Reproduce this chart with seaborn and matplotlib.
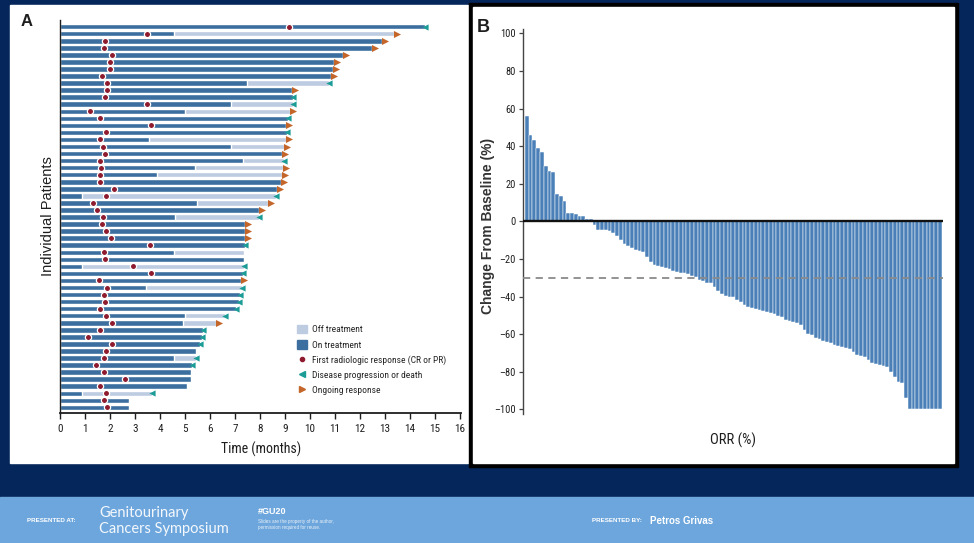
import numpy as np
import pandas as pd
import matplotlib
matplotlib.use('Agg')
import matplotlib.pyplot as plt
from matplotlib.patches import Rectangle
from matplotlib.lines import Line2D
import seaborn as sns

# ---- panel A: swimmer plot, time in months (top row first) ----
on_end = [14.6, 4.56, 12.9, 12.5, 11.32, 10.95, 10.92, 10.85, 7.47, 9.27,
          9.32, 6.85, 5.02, 9.14, 9.06, 9.09, 3.58, 6.85, 8.9, 7.32,
          5.41, 3.88, 8.85, 8.67, 0.9, 5.49, 7.95, 4.59, 7.41, 7.41,
          7.41, 7.42, 4.58, 7.38, 0.9, 7.34, 7.25, 3.46, 7.21, 7.16,
          7.05, 5.01, 4.92, 5.72, 5.68, 5.61, 5.45, 4.56, 5.29, 5.25,
          5.25, 5.08, 0.9, 2.76, 2.76]
# end of follow-up (equals on_end when there is no off-treatment period)
off_end = [14.6, 13.37, 12.9, 12.5, 11.32, 10.95, 10.92, 10.85, 10.77, 9.27,
           9.32, 9.32, 9.22, 9.14, 9.06, 9.09, 9.05, 8.95, 8.9, 8.95,
           8.91, 8.89, 8.85, 8.67, 8.65, 8.31, 7.95, 7.98, 7.41, 7.41,
           7.41, 7.42, 7.38, 7.38, 7.36, 7.34, 7.25, 7.29, 7.21, 7.16,
           7.05, 6.6, 6.25, 5.72, 5.68, 5.61, 5.45, 5.43, 5.29, 5.25,
           5.25, 5.08, 3.68, 2.76, 2.76]
first_resp = [9.15, 3.5, 1.82, 1.78, 2.07, 2.0, 2.0, 1.7, 1.88, 1.88,
              1.82, 3.48, 1.2, 1.61, 3.66, 1.84, 1.61, 1.74, 1.81, 1.6,
              1.64, 1.6, 1.6, 2.18, 1.84, 1.33, 1.48, 1.74, 1.68, 1.84,
              2.04, 3.6, 1.78, 1.81, 2.91, 3.66, 1.57, 1.89, 1.78, 1.81,
              1.6, 1.84, 2.08, 1.6, 1.12, 2.08, 1.84, 1.78, 1.43, 1.78,
              2.61, 1.6, 1.84, 1.76, 1.88]
end_event = ['prog', 'ong', 'ong', 'ong', 'ong', 'ong', 'ong', 'ong', 'prog', 'ong',
             'prog', 'prog', 'ong', 'prog', 'ong', 'prog', 'ong', 'ong', 'ong', 'prog',
             'ong', 'ong', 'ong', 'ong', 'prog', 'ong', 'ong', 'prog', 'ong', 'ong',
             'ong', 'prog', '', '', 'prog', 'prog', 'ong', 'prog', 'prog', 'prog',
             'prog', 'prog', 'ong', 'prog', 'prog', 'prog', '', 'prog', 'prog', '',
             '', '', 'prog', '', '']
time_ticks = list(range(0, 17))
legend_labels = ['Off treatment', 'On treatment', 'First radiologic response (CR or PR)',
                 'Disease progression or death', 'Ongoing response']

# ---- panel B: waterfall, best % change from baseline ----
change = [56, 46, 43.5, 39, 37, 29.5, 27, 26, 14.5, 13.5,
          11, 4.6, 4.5, 4, 3, 3, 1.2, 1, -2, -4.5,
          -4.6, -4.8, -5, -6, -8, -10, -12, -13, -14, -15.5,
          -16, -16.5, -19, -21.5, -23.5, -24, -24.5, -25, -25.5, -26.5,
          -27, -27.5, -27.7, -28, -29, -29.5, -31, -32, -32.6, -33,
          -35, -37, -38.5, -39.5, -40, -40.3, -42, -43, -44.5, -45.5,
          -46, -46.5, -47.3, -47.8, -48.2, -49, -49.5, -50.4, -50.8, -52.5,
          -52.8, -53.5, -54.3, -55, -57.8, -60, -60.5, -62.3, -62.8, -63.5,
          -64, -64.6, -65.8, -66.2, -66.7, -67.6, -68, -69.3, -71.1, -71.5,
          -72, -73.8, -75.5, -75.8, -76.4, -76.8, -77.3, -80, -82.6, -85.3,
          -85.8, -94.2, -100, -100, -100, -100, -100, -100, -100, -100,
          -100]
change_ticks = list(range(-100, 101, 20))
orr_threshold = -30

NAVY = '#05265a'
FOOT = '#6da6dc'
ON = '#3c6f9f'
OFF = '#bdcce1'
RESP = '#8e1b2e'
PROG = '#1c9c96'
ONGO = '#c4652a'
BAR_B = '#4a80b7'
INK = '#1e1e1e'

sns.set_theme(style='white')
plt.rcParams['font.family'] = ['Liberation Sans', 'DejaVu Sans']
NARROW = ['Roboto Condensed', 'Liberation Sans', 'DejaVu Sans']

W, H = 974, 543
fig = plt.figure(figsize=(W / 100, H / 100), dpi=100)
fig.patch.set_facecolor(NAVY)


def box(x0, y0, x1, y1, color):
  # pixel coords measured from the top-left corner
  fig.add_artist(Rectangle((x0 / W, 1 - y1 / H), (x1 - x0) / W, (y1 - y0) / H,
                           transform=fig.transFigure, color=color, zorder=-5))


box(0, 497, W, H, FOOT)
box(10, 5, 468, 463, 'white')
box(469, 3, 958, 467, 'black')
box(473, 7, 954, 463, 'white')

# ---------------- panel A ----------------
axA = fig.add_axes([60 / W, 1 - 413 / H, (461 - 60) / W, (413 - 20) / H])
axA.patch.set_alpha(0)
df_a = pd.DataFrame({'patient': [f'P{i + 1}' for i in range(len(on_end))],
                     'on': on_end, 'off': off_end, 'resp': first_resp,
                     'event': end_event})

sns.barplot(data=df_a, x='off', y='patient', orient='h', color=OFF,
            saturation=1, width=0.78, ax=axA)
sns.barplot(data=df_a, x='on', y='patient', orient='h', color=ON,
            saturation=1, width=0.78, ax=axA)
sns.scatterplot(data=df_a, x='resp', y='patient', marker='o', color=RESP,
                edgecolor='white', linewidth=0.9, s=20, ax=axA, zorder=4)
prog = df_a[df_a.event == 'prog']
sns.scatterplot(x=prog['off'], y=prog['patient'], marker='<', color=PROG,
                s=20, linewidth=0, ax=axA, zorder=4)
ong = df_a[df_a.event == 'ong']
sns.scatterplot(x=ong['off'] + 0.12, y=ong['patient'], marker='>', color=ONGO,
                s=26, linewidth=0, ax=axA, zorder=4)

axA.set_xlim(0, 16.05)
axA.set_ylim(54.8, -0.95)
axA.set_xticks(time_ticks)
axA.set_xticklabels([str(t) for t in time_ticks], family=NARROW, fontsize=8, color=INK)
axA.set_yticks([])
axA.set_xlabel('')
axA.set_ylabel('')
for s in ['top', 'right']:
  axA.spines[s].set_visible(False)
for s in ['left', 'bottom']:
  axA.spines[s].set_color(INK)
axA.spines['bottom'].set_linewidth(1.3)
axA.spines['left'].set_linewidth(1.0)
axA.tick_params(axis='x', direction='out', length=4, width=1, color=INK, pad=4, bottom=True)

handles = [Rectangle((0, 0), 1, 1, color=OFF), Rectangle((0, 0), 1, 1, color=ON),
           Line2D([], [], marker='o', ls='', color=RESP, ms=3),
           Line2D([], [], marker='<', ls='', color=PROG, ms=4),
           Line2D([], [], marker='>', ls='', color=ONGO, ms=4.5)]
axA.legend(handles, legend_labels, loc='upper left',
           bbox_to_anchor=(297 / W, 1 - 325 / H), bbox_transform=fig.transFigure,
           frameon=False, prop={'family': NARROW, 'size': 6.8},
           handlelength=1.1, handleheight=1.0, handletextpad=0.5,
           labelspacing=0.6, borderpad=0, borderaxespad=0)

fig.text(21 / W, 1 - 22 / H, 'A', fontsize=12, weight='bold', color=INK,
         ha='left', va='center')
fig.text(48 / W, 1 - 216 / H, 'Individual Patients', fontsize=10.5, color=INK,
         rotation=90, ha='center', va='center')
fig.text(261 / W, 1 - 449 / H, 'Time (months)', fontsize=10, family=NARROW,
         color=INK, ha='center', va='center')

# ---------------- panel B ----------------
axB = fig.add_axes([523.3 / W, 1 - 414 / H, (942.7 - 523.3) / W, (414 - 29) / H])
axB.patch.set_alpha(0)
df_b = pd.DataFrame({'pt': [f'B{i}' for i in range(len(change))], 'change': change})
sns.barplot(data=df_b, x='pt', y='change', color=BAR_B, saturation=1, width=1,
            edgecolor='white', linewidth=0.35, ax=axB)
axB.axhline(0, color='#111111', lw=1.7, zorder=5)
axB.axhline(orr_threshold, color='#8a8a8a', lw=1.3, ls=(0, (4, 3)), zorder=5)

axB.set_xlim(-0.95, len(change) - 0.2)
axB.set_ylim(-102.5, 102.3)
axB.set_xticks([])
axB.set_yticks(change_ticks)
axB.set_yticklabels([str(t).replace('-', '\u2013') for t in change_ticks],
                    family=NARROW, fontsize=7.5, color=INK)
axB.set_xlabel('')
axB.set_ylabel('')
for s in ['top', 'right', 'bottom']:
  axB.spines[s].set_visible(False)
axB.spines['left'].set_color('#444444')
axB.spines['left'].set_linewidth(1.0)
axB.tick_params(axis='y', direction='out', length=3, width=0.9, color='#444444', pad=2.5, left=True)

fig.text(483 / W, 1 - 27 / H, 'B', fontsize=13, weight='bold', color=INK,
         ha='center', va='center')
fig.text(488 / W, 1 - 226 / H, 'Change From Baseline (%)', fontsize=10, weight='bold',
         color='#333333', rotation=90, ha='center', va='center')
fig.text(733 / W, 1 - 440 / H, 'ORR (%)', fontsize=10.5, family=NARROW,
         color=INK, ha='center', va='center')

# ---------------- footer ----------------
fig.text(27 / W, 1 - 521 / H, 'PRESENTED AT:', fontsize=4.5, weight='bold',
         color='white', va='center')
fig.text(99 / W, 1 - 513 / H, 'Genitourinary', fontsize=10.5, family=['Lato', 'DejaVu Sans'],
         color='#f4f8fd', va='center')
fig.text(99 / W, 1 - 529 / H, 'Cancers Symposium', fontsize=10.5, family=['Lato', 'DejaVu Sans'],
         color='#f4f8fd', va='center')
fig.text(258 / W, 1 - 511 / H, '#GU20', fontsize=6.5, weight='bold', color='white', va='center')
fig.text(258 / W, 1 - 521 / H, 'Slides are the property of the author,', fontsize=3.3,
         color='#e8f0f9', va='center')
fig.text(258 / W, 1 - 527 / H, 'permission required for reuse.', fontsize=3.3,
         color='#e8f0f9', va='center')
fig.text(592 / W, 1 - 521 / H, 'PRESENTED BY:', fontsize=4.5, weight='bold',
         color='white', va='center')
fig.text(650 / W, 1 - 521 / H, 'Petros Grivas', fontsize=7, weight='bold',
         color='white', va='center')

fig.savefig('out.png', dpi=100, facecolor=NAVY)
